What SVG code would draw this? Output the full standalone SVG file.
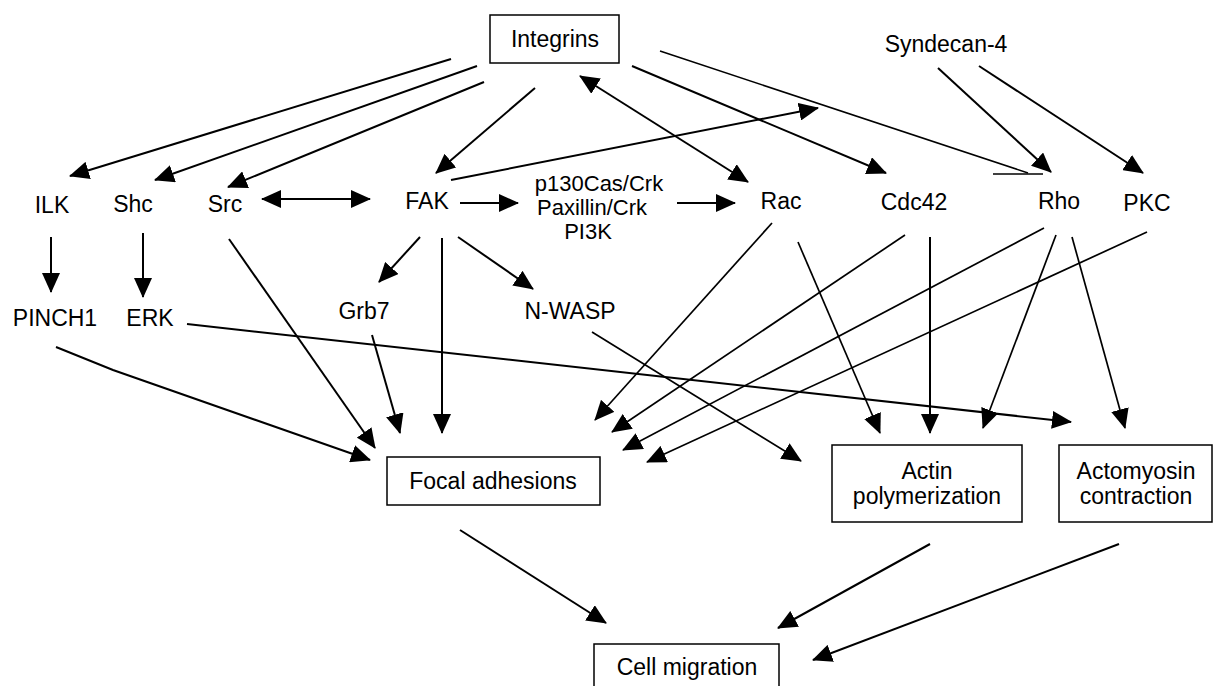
<svg xmlns="http://www.w3.org/2000/svg" width="1214" height="686" viewBox="0 0 1214 686">
<style>
  text { font-family: "Liberation Sans", Arial, sans-serif; font-size: 23px; fill: #000; text-anchor: middle; }
  .sm { font-size: 22px; }
  .box { fill: #fff; stroke: #000; stroke-width: 1.5; }
  .c { fill: none; stroke: #000; stroke-width: 2; marker-end: url(#ah); }
  .thin { stroke-width: 1.7; }
  .both { marker-start: url(#ah); }
  .plain { fill: none; stroke: #000; stroke-width: 1.6; }
</style>
<defs>
  <marker id="ah" viewBox="0 0 20 18" refX="19" refY="9" markerWidth="20" markerHeight="18" markerUnits="userSpaceOnUse" orient="auto-start-reverse">
    <path d="M0,0 L20,9 L0,18 z" fill="#000"/>
  </marker>
</defs>
<rect width="1214" height="686" fill="#fff"/>
<g id="connectors">
  <!-- Integrins outgoing -->
  <line class="c" x1="451" y1="59" x2="70" y2="176"/>
  <line class="c" x1="477" y1="66" x2="155" y2="180"/>
  <line class="c" x1="484" y1="82" x2="228" y2="187"/>
  <line class="c" x1="535" y1="88" x2="436" y2="173"/>
  <line class="c both" x1="580" y1="76" x2="748" y2="182"/>
  <line class="c" x1="632" y1="66" x2="886" y2="173"/>
  <line class="plain" x1="660" y1="51" x2="1028" y2="173"/>
  <line class="plain" stroke-width="2" x1="993" y1="174" x2="1043" y2="174"/>
  <!-- FAK to upper right -->
  <line class="c" x1="451" y1="180" x2="818" y2="108"/>
  <!-- Syndecan-4 -->
  <line class="c" x1="938" y1="68" x2="1051" y2="172"/>
  <line class="c" x1="979" y1="66" x2="1143" y2="173"/>
  <!-- row 2 horizontals -->
  <line class="c both" x1="262" y1="199" x2="370" y2="199"/>
  <line class="c" x1="460" y1="203" x2="518" y2="203"/>
  <line class="c" x1="677" y1="203" x2="735" y2="203"/>
  <!-- row 2 to row 3 -->
  <line class="c" x1="51" y1="237" x2="51" y2="292"/>
  <line class="c" x1="143" y1="233" x2="143" y2="297"/>
  <line class="c" x1="420" y1="237" x2="379" y2="282"/>
  <line class="c" x1="458" y1="237" x2="533" y2="289"/>
  <!-- to Focal adhesions -->
  <polyline class="c" points="56,347 113,370 370,460"/>
  <line class="c" x1="229" y1="239" x2="375" y2="448"/>
  <line class="c" x1="372" y1="335" x2="400" y2="433"/>
  <line class="c" x1="442" y1="238" x2="442" y2="433"/>
  <line class="c thin" x1="772" y1="223" x2="595" y2="420"/>
  <line class="c thin" x1="905" y1="235" x2="612" y2="432"/>
  <line class="c thin" x1="1044" y1="228" x2="623" y2="450"/>
  <line class="c thin" x1="1147" y1="232" x2="647" y2="462"/>
  <!-- ERK long -->
  <line class="c" x1="187" y1="324" x2="1071" y2="422"/>
  <!-- N-WASP -->
  <line class="c thin" x1="592" y1="332" x2="801" y2="461"/>
  <!-- to Actin / Actomyosin -->
  <line class="c thin" x1="798" y1="242" x2="880" y2="433"/>
  <line class="c" x1="930" y1="237" x2="930" y2="433"/>
  <line class="c thin" x1="1056" y1="235" x2="983" y2="428"/>
  <line class="c thin" x1="1072" y1="237" x2="1125" y2="428"/>
  <!-- to Cell migration -->
  <line class="c" x1="460" y1="530" x2="606" y2="623"/>
  <line class="c" x1="930" y1="544" x2="778" y2="628"/>
  <line class="c" x1="1119" y1="544" x2="813" y2="660"/>
</g>
<g id="integrins"><rect class="box" x="490" y="15" width="129" height="48"/><text x="555" y="47">Integrins</text></g>
<g id="syndecan4"><text x="946" y="52">Syndecan-4</text></g>
<g id="ilk"><text x="52" y="213">ILK</text></g>
<g id="shc"><text x="133" y="212">Shc</text></g>
<g id="src"><text x="225" y="212">Src</text></g>
<g id="fak"><text x="427" y="209">FAK</text></g>
<g id="p130"><text class="sm" x="599" y="191">p130Cas/Crk</text><text class="sm" x="592" y="215">Paxillin/Crk</text><text class="sm" x="588" y="239">PI3K</text></g>
<g id="rac"><text x="781" y="209">Rac</text></g>
<g id="cdc42"><text x="914" y="210">Cdc42</text></g>
<g id="rho"><text x="1059" y="209">Rho</text></g>
<g id="pkc"><text x="1147" y="211">PKC</text></g>
<g id="pinch1"><text x="55" y="326">PINCH1</text></g>
<g id="erk"><text x="150" y="326">ERK</text></g>
<g id="grb7"><text x="364" y="319">Grb7</text></g>
<g id="nwasp"><text x="570" y="319">N-WASP</text></g>
<g id="focal"><rect class="box" x="387" y="457" width="213" height="48"/><text x="493" y="489">Focal adhesions</text></g>
<g id="actin"><rect class="box" x="832" y="445" width="190" height="77"/><text x="927" y="479">Actin</text><text x="927" y="504">polymerization</text></g>
<g id="actomyosin"><rect class="box" x="1059" y="445" width="153" height="77"/><text x="1136" y="479">Actomyosin</text><text x="1136" y="504">contraction</text></g>
<g id="cellmig"><rect class="box" x="594" y="644" width="185" height="50"/><text x="687" y="675">Cell migration</text></g>
</svg>
